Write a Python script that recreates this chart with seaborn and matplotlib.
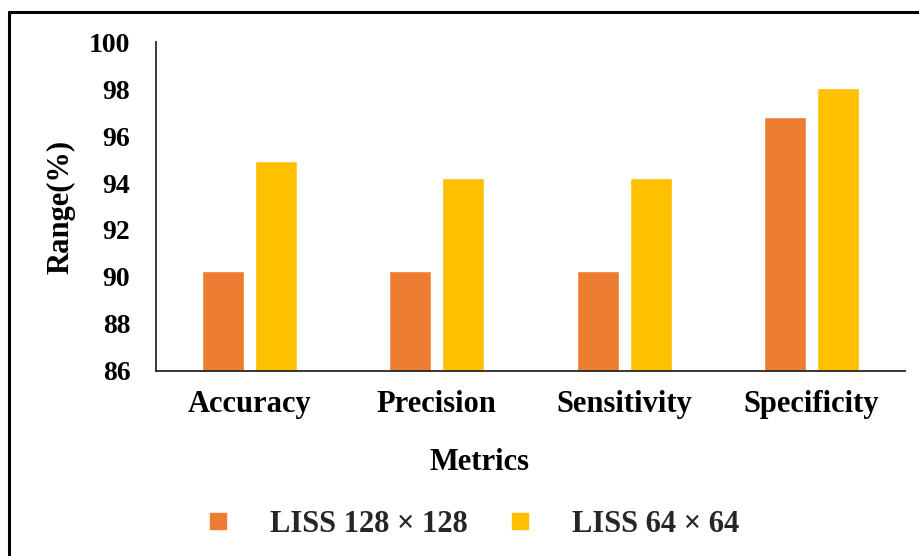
import matplotlib
matplotlib.use("Agg")
import matplotlib.pyplot as plt
from matplotlib.lines import Line2D
import pandas as pd
import seaborn as sns

# Data
metrics = ["Accuracy", "Precision", "Sensitivity", "Specificity"]
series_names = ["LISS 128 \u00d7 128", "LISS 64 \u00d7 64"]
liss_128 = [90.25, 90.25, 90.25, 96.8]
liss_64 = [94.95, 94.2, 94.2, 98.05]
y_ticks = [86, 88, 90, 92, 94, 96, 98, 100]
colors = ["#ED7D31", "#FFC000"]

df = pd.DataFrame({
    "Metric": metrics * 2,
    "Series": [series_names[0]] * len(metrics) + [series_names[1]] * len(metrics),
    "Value": liss_128 + liss_64,
})

sns.set_theme(style="white")
plt.rcParams["font.family"] = ["Liberation Serif", "DejaVu Serif"]
plt.rcParams["font.weight"] = "bold"

W, H = 920, 556
fig = plt.figure(figsize=(W / 100, H / 100), dpi=100)
ax = fig.add_axes([156 / W, 1 - 370.7 / H, (905 - 156) / W, (370.7 - 42.3) / H])

sns.barplot(data=df, x="Metric", y="Value", hue="Series", order=metrics,
            hue_order=series_names, palette=colors, width=0.566, gap=0.208,
            saturation=1, legend=False, ax=ax)

ax.set_ylim(86, 100)
ax.set_yticks(y_ticks)
ax.set_yticklabels([str(t) for t in y_ticks], fontsize=20, fontweight="bold")
ax.set_xticks(range(len(metrics)))
ax.set_xticklabels(metrics, fontsize=22, fontweight="bold")
ax.tick_params(axis="y", length=0, pad=18.5, colors="black")
ax.tick_params(axis="x", length=0, pad=13.7, colors="black")

for side in ["top", "right"]:
    ax.spines[side].set_visible(False)
for side in ["left", "bottom"]:
    ax.spines[side].set_color("#262626")
    ax.spines[side].set_linewidth(1.3)

ax.set_ylabel("Range(%)", fontsize=22, fontweight="bold", color="black")
ax.yaxis.set_label_coords((75.5 - 156) / 749, 0.5)
ax.set_xlabel("Metrics", fontsize=22, fontweight="bold", color="black")
ax.xaxis.set_label_coords((480 - 156) / 749, (370.7 - 448) / 328.4)

handles = [Line2D([0], [0], marker="s", linestyle="", markersize=11.3,
                  markerfacecolor=c, markeredgecolor=c) for c in colors]
fig.legend(handles, series_names, loc="center", ncol=2,
           bbox_to_anchor=(471 / W, 1 - 524 / H), frameon=False,
           prop={"size": 22, "weight": "bold"}, handlelength=1.0,
           handletextpad=1.22, columnspacing=1.19)

# Outer frame (top and left edges)
fig.add_artist(Line2D([9 / W, 1.0], [1 - 12 / H, 1 - 12 / H], color="black",
                      linewidth=2.2, transform=fig.transFigure))
fig.add_artist(Line2D([9 / W, 9 / W], [1 - 12 / H, 0.0], color="black",
                      linewidth=2.2, transform=fig.transFigure))

fig.savefig("out.png", dpi=100)
